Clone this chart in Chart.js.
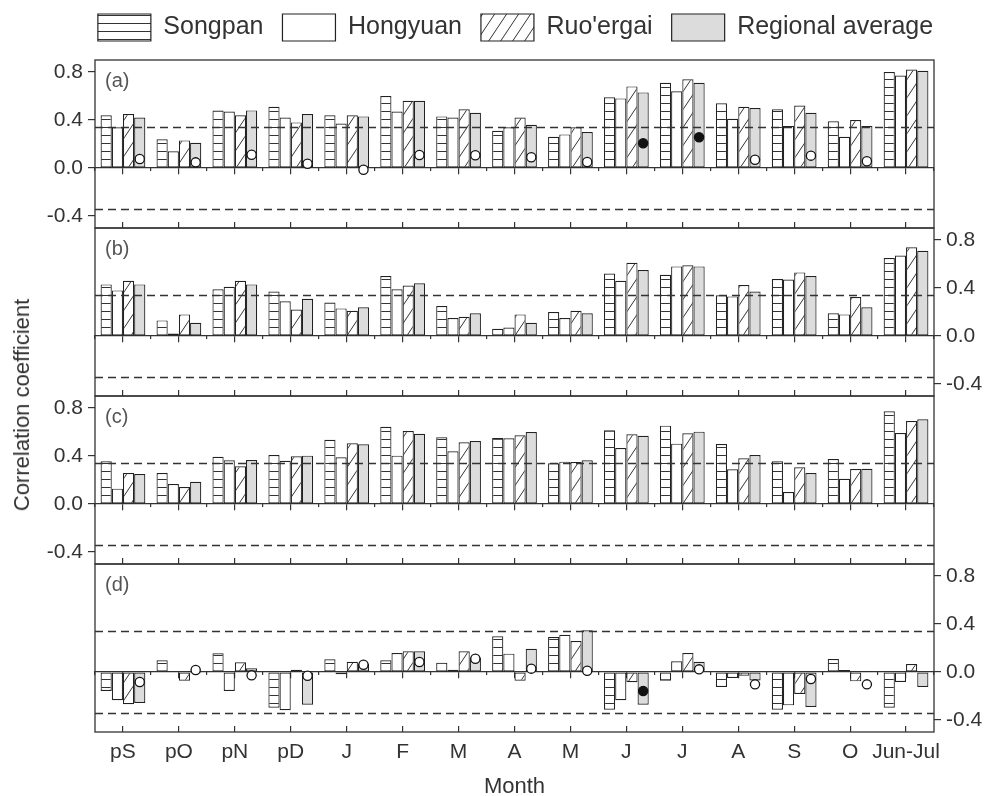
<!DOCTYPE html>
<html>
<head>
<meta charset="utf-8">
<title>Correlation coefficient by month</title>
<script src="https://cdn.jsdelivr.net/npm/chart.js@4.4.1/dist/chart.umd.min.js"></script>
<style>
  html, body { margin: 0; padding: 0; background: #fff; overflow: hidden; }
  #wrap { position: relative; width: 987px; height: 796px; overflow: hidden; }
  #wrap canvas { position: absolute; left: 0; }
  #ytitle {
    position: absolute; left: 22px; top: 405px;
    transform: translate(-50%, -50%) rotate(-90deg);
    font: 22px "Liberation Sans", Arial, sans-serif; color: #333; white-space: nowrap;
  }
</style>
</head>
<body>
<div id="wrap">
  <canvas id="panelA" width="987" height="248" style="top:0px;width:987px;height:248px"></canvas>
  <canvas id="dotsA" width="987" height="248" style="top:0px;width:987px;height:248px"></canvas>
  <canvas id="panelB" width="987" height="208" style="top:208px;width:987px;height:208px"></canvas>
  <canvas id="panelC" width="987" height="208" style="top:376px;width:987px;height:208px"></canvas>
  <canvas id="panelD" width="987" height="256" style="top:544px;width:987px;height:256px"></canvas>
  <canvas id="dotsD" width="987" height="256" style="top:544px;width:987px;height:256px"></canvas>
  <div id="ytitle">Correlation coefficient</div>
</div>
<script>
const months = ["pS", "pO", "pN", "pD", "J", "F", "M", "A", "M", "J", "J", "A", "S", "O", "Jun-Jul"];
const seriesNames = ["Songpan", "Hongyuan", "Ruo'ergai", "Regional average"];
const yTickValues = [-0.4, -0.2, 0, 0.2, 0.4, 0.6, 0.8];
const yTickLabels = ["-0.4", "", "0.0", "", "0.4", "", "0.8"];
const xTitle = "Month";
const sigLevel = 0.345;

// (a)
const songA = [0.44, 0.24, 0.48, 0.51, 0.44, 0.60, 0.43, 0.31, 0.26, 0.59, 0.71, 0.54, 0.49, 0.39, 0.80];
const hongA = [0.34, 0.14, 0.47, 0.42, 0.37, 0.47, 0.42, 0.34, 0.28, 0.58, 0.64, 0.41, 0.35, 0.26, 0.77];
const ruoA  = [0.45, 0.23, 0.44, 0.38, 0.44, 0.56, 0.49, 0.42, 0.34, 0.68, 0.74, 0.51, 0.52, 0.40, 0.82];
const regA  = [0.42, 0.21, 0.48, 0.45, 0.43, 0.56, 0.46, 0.36, 0.30, 0.63, 0.71, 0.50, 0.46, 0.35, 0.81];
const dotA  = [0.075, 0.047, 0.11, 0.036, -0.014, 0.108, 0.106, 0.089, 0.05, 0.206, 0.256, 0.069, 0.103, 0.056, null];
const sigA  = [0, 0, 0, 0, 0, 0, 0, 0, 0, 1, 1, 0, 0, 0, 0];

// (b)
const songB = [0.43, 0.13, 0.39, 0.37, 0.28, 0.50, 0.25, 0.06, 0.20, 0.52, 0.51, 0.34, 0.475, 0.19, 0.65];
const hongB = [0.38, 0.02, 0.41, 0.29, 0.23, 0.39, 0.15, 0.07, 0.15, 0.46, 0.58, 0.33, 0.47, 0.18, 0.67];
const ruoB  = [0.46, 0.18, 0.46, 0.22, 0.21, 0.42, 0.16, 0.18, 0.21, 0.61, 0.59, 0.425, 0.53, 0.325, 0.74];
const regB  = [0.43, 0.11, 0.43, 0.31, 0.24, 0.44, 0.19, 0.11, 0.19, 0.55, 0.58, 0.37, 0.50, 0.24, 0.71];

// (c)
const songC = [0.356, 0.258, 0.394, 0.408, 0.536, 0.644, 0.556, 0.55, 0.339, 0.614, 0.653, 0.50, 0.356, 0.375, 0.772];
const hongC = [0.128, 0.167, 0.364, 0.361, 0.389, 0.403, 0.439, 0.547, 0.353, 0.467, 0.503, 0.289, 0.10, 0.211, 0.592];
const ruoC  = [0.258, 0.142, 0.314, 0.397, 0.506, 0.608, 0.514, 0.572, 0.35, 0.581, 0.589, 0.381, 0.306, 0.292, 0.692];
const regC  = [0.25, 0.186, 0.367, 0.403, 0.497, 0.586, 0.525, 0.60, 0.364, 0.569, 0.603, 0.408, 0.258, 0.294, 0.706];

// (d)
const songD = [-0.158, 0.097, 0.156, -0.297, 0.106, 0.097, 0.078, 0.297, 0.292, -0.314, -0.072, -0.125, -0.314, 0.108, -0.297];
const hongD = [-0.236, 0.008, -0.158, -0.319, -0.019, 0.158, 0.019, 0.153, 0.311, -0.236, 0.089, -0.05, -0.278, 0.017, -0.083];
const ruoD  = [-0.269, -0.072, 0.081, 0.019, 0.086, 0.172, 0.172, -0.072, 0.258, -0.086, 0.158, -0.031, -0.183, -0.078, 0.067];
const regD  = [-0.258, -0.01, 0.031, -0.272, 0.07, 0.172, 0.12, 0.194, 0.347, -0.272, 0.086, -0.07, -0.292, 0.008, -0.125];
const dotD  = [-0.083, 0.017, -0.028, -0.031, 0.061, 0.083, 0.111, 0.028, 0.011, -0.158, 0.022, -0.103, -0.058, -0.103, null];
const sigD  = [0, 0, 0, 0, 0, 0, 0, 0, 0, 1, 0, 0, 0, 0, 0];

Chart.defaults.font.family = "'Liberation Sans', Arial, sans-serif";
Chart.defaults.color = "#333";

const ink = "#333";
const dotShift = 0.3; // circles sit over the regional-average bar

function makeFills(ctx) {
  const h = document.createElement("canvas");
  h.width = 8; h.height = 8;
  let g = h.getContext("2d");
  g.fillStyle = "#fff"; g.fillRect(0, 0, 8, 8);
  g.strokeStyle = ink; g.lineWidth = 1;
  g.beginPath(); g.moveTo(0, 7.5); g.lineTo(8, 7.5); g.stroke();

  const d = document.createElement("canvas");
  d.width = 12; d.height = 18;
  g = d.getContext("2d");
  g.fillStyle = "#fff"; g.fillRect(0, 0, 12, 18);
  g.strokeStyle = ink; g.lineWidth = 1;
  for (const k of [-1, 0, 1]) {
    g.beginPath(); g.moveTo(k * 12, 18); g.lineTo(k * 12 + 12, 0); g.stroke();
  }
  return [ctx.createPattern(h, "repeat"), "#fff", ctx.createPattern(d, "repeat"), "#dcdcdc"];
}

// frame, significance lines and panel tag
const framePlugin = {
  id: "frame",
  afterDraw(chart, args, opts) {
    const { ctx, chartArea: a } = chart;
    const y = chart.scales.y;
    ctx.save();
    ctx.strokeStyle = ink;
    ctx.lineWidth = 1.3;
    ctx.setLineDash([8, 5]);
    [sigLevel, -sigLevel].forEach(v => {
      const py = Math.round(y.getPixelForValue(v)) + 0.5;
      ctx.beginPath(); ctx.moveTo(a.left, py); ctx.lineTo(a.right, py); ctx.stroke();
    });
    ctx.setLineDash([]);
    ctx.strokeRect(a.left, a.top, a.right - a.left, a.bottom - a.top);
    ctx.fillStyle = "#555";
    ctx.font = "20px 'Liberation Sans', Arial, sans-serif";
    ctx.textBaseline = "middle";
    ctx.fillText(opts.tag, a.left + 10, a.top + 21);
    ctx.restore();
  }
};

function makePanel(id, tag, side, values, isFirst, isLast) {
  const canvas = document.getElementById(id);
  const ctx = canvas.getContext("2d");
  const fills = makeFills(ctx);

  const datasets = seriesNames.map((name, k) => ({
    label: name,
    data: values[k],
    backgroundColor: fills[k],
    borderColor: "#222",
    borderWidth: 1.2,
    borderSkipped: false,
    categoryPercentage: 0.8,
    barPercentage: 1.0,
  }));

  const other = side === "left" ? "right" : "left";
  const leftW = isFirst ? 51 : 95;
  const sideW = s => (s === "left" ? leftW : 53);

  const scales = {
    x: {
      type: "category",
      position: "bottom",
      offset: true,
      grid: { offset: false, drawOnChartArea: false, tickLength: -6, color: ink, lineWidth: 1.2 },
      border: { display: false },
      ticks: { display: isLast, autoSkip: false, maxRotation: 0, padding: 14, font: { size: 21 }, color: ink },
      title: { display: isLast, text: xTitle, font: { size: 22 }, color: ink, padding: { top: 0, bottom: 0 } },
      afterFit(s) { s.height = isLast ? 68 : 0; },
    },
    xZero: {
      type: "category",
      axis: "x",
      position: { y: 0 },
      offset: true,
      grid: { offset: false, drawOnChartArea: false, tickLength: 6, color: ink, lineWidth: 1.2 },
      border: { display: true, color: ink, width: 1.3 },
      ticks: { display: false },
    },
    xZeroMinor: {
      type: "category",
      axis: "x",
      position: { y: 0 },
      offset: true,
      grid: { offset: true, drawOnChartArea: false, tickLength: 3, color: ink, lineWidth: 1.2 },
      border: { display: false },
      ticks: { display: false },
    },
    y: {
      position: side,
      min: -0.5,
      max: 0.9,
      afterBuildTicks(s) { s.ticks = yTickValues.map(v => ({ value: v })); },
      afterFit(s) { s.width = sideW(side); },
      grid: { drawOnChartArea: false, tickLength: 7, color: ink, lineWidth: 1.2 },
      border: { display: false },
      ticks: { callback: (v, i) => yTickLabels[i], padding: 5, font: { size: 21 }, color: ink },
    },
    yPad: {
      position: other,
      grid: { display: false },
      border: { display: false },
      ticks: { display: false },
      afterFit(s) { s.width = sideW(other); },
    },
  };
  if (isFirst) {
    scales.xTopPad = {
      type: "category",
      position: "top",
      grid: { display: false },
      border: { display: false },
      ticks: { display: false },
      afterFit(s) { s.height = 9; },
    };
  }

  return new Chart(ctx, {
    type: "bar",
    data: { labels: months, datasets },
    options: {
      responsive: false,
      devicePixelRatio: 1,
      animation: false,
      events: [],
      layout: {
        padding: isFirst
          ? { top: -5, left: 44, right: 0, bottom: 20 }
          : { top: 20, left: 0, right: 0, bottom: isLast ? 0 : 20 },
      },
      plugins: {
        frame: { tag },
        tooltip: { enabled: false },
        legend: {
          display: isFirst,
          position: "top",
          align: "center",
          labels: {
            boxWidth: 53,
            boxHeight: 27,
            padding: 19,
            font: { size: 25 },
            color: ink,
          },
        },
      },
      scales,
    },
    plugins: [framePlugin],
  });
}

// circles on a transparent chart laid over the same plot area
function makeDots(id, dots, sig, padTop, padBottom) {
  const pts = [], cols = [];
  dots.forEach((v, i) => {
    if (v === null) return;
    pts.push({ x: i + dotShift, y: v });
    cols.push(sig[i] ? "#111" : "#fff");
  });
  return new Chart(document.getElementById(id), {
    type: "scatter",
    data: {
      datasets: [{
        label: "dots",
        data: pts,
        pointRadius: 4.6,
        pointBorderWidth: 1.3,
        pointBorderColor: "#111",
        pointBackgroundColor: cols,
      }],
    },
    options: {
      responsive: false,
      devicePixelRatio: 1,
      animation: false,
      events: [],
      layout: { padding: { top: padTop, bottom: padBottom, left: 95, right: 53 } },
      plugins: { legend: { display: false }, tooltip: { enabled: false } },
      scales: {
        x: { type: "linear", offset: false, min: -0.5, max: months.length - 0.5, display: false },
        y: { type: "linear", min: -0.5, max: 0.9, display: false },
      },
    },
  });
}

makePanel("panelA", "(a)", "left", [songA, hongA, ruoA, regA], true, false);
makeDots("dotsA", dotA, sigA, 60, 20);
makePanel("panelB", "(b)", "right", [songB, hongB, ruoB, regB], false, false);
makePanel("panelC", "(c)", "left", [songC, hongC, ruoC, regC], false, false);
makePanel("panelD", "(d)", "right", [songD, hongD, ruoD, regD], false, true);
makeDots("dotsD", dotD, sigD, 20, 68);
</script>
</body>
</html>
